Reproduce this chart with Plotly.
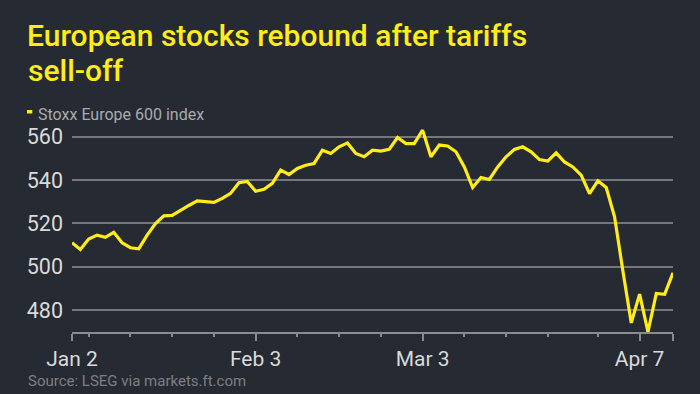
import plotly.graph_objects as go

# Trading-day index (0 = Jan 2 2025 ... 72 = Apr 14 2025)
values = [
    511.1, 508.0, 512.8, 514.6, 513.6, 515.9, 511.1, 508.8, 508.3, 514.6,
    520.0, 523.5, 523.7, 526.2, 528.3, 530.4, 530.2, 529.7, 531.6, 533.9,
    538.8, 539.4, 534.9, 535.8, 538.5, 544.6, 542.6, 545.4, 546.9, 547.7,
    553.8, 552.3, 555.4, 557.2, 552.3, 550.8, 553.8, 553.4, 554.2, 559.7,
    556.9, 556.9, 563.1, 550.8, 556.2, 555.8, 553.1, 546.1, 536.6, 541.2,
    540.3, 546.1, 550.8, 554.2, 555.4, 553.1, 549.5, 548.8, 552.6, 548.4,
    546.1, 542.3, 533.8, 539.7, 536.6, 523.1, 498.0, 474.1, 487.4, 470.0,
    487.7, 487.3, 497.2,
]
day_index = list(range(len(values)))

major_tick_pos = [0, 22, 42, 68, 72]
major_tick_text = ["Jan 2", "Feb 3", "Mar 3", "Apr 7", ""]
minor_tick_pos = [2, 7, 12, 17, 27, 32, 37, 47, 52, 57, 63]
y_ticks = [480, 500, 520, 540, 560]

BG = "#262a33"
YELLOW = "#ffec1a"
GRID = "#75777c"
AXIS = "#8a8b8f"
TICKTXT = "#d9dadc"

L, T, W, H = 72, 126, 601, 206  # plot area in pixels


def px_x(x):
    return (x - L) / W


def px_y(y):
    return 1 - (y - T) / H


fig = go.Figure()
fig.add_trace(go.Scatter(
    x=day_index, y=values, mode="lines",
    line=dict(color=YELLOW, width=3.2), hoverinfo="skip", showlegend=False,
))

fig.update_layout(
    width=700, height=394,
    paper_bgcolor=BG, plot_bgcolor=BG,
    margin=dict(l=L, r=700 - L - W, t=T, b=394 - T - H),
    font=dict(family="Roboto", color=TICKTXT),
    title=dict(
        text="European stocks rebound after tariffs",
        font=dict(family="Roboto", size=30, color=YELLOW, weight=500),
        x=27/700, xref="container", xanchor="left",
        y=1 - 35/394, yref="container", yanchor="middle",
    ),
    xaxis=dict(
        range=[0, 72], showgrid=False, zeroline=False,
        showline=True, linecolor=AXIS, linewidth=1.5,
        tickmode="array", tickvals=major_tick_pos, ticktext=major_tick_text,
        ticks="outside", ticklen=7, tickwidth=1.5, tickcolor=AXIS,
        tickfont=dict(size=21, color=TICKTXT),
        minor=dict(tickmode="array", tickvals=minor_tick_pos, ticks="outside",
                   ticklen=3, tickwidth=1.5, tickcolor=AXIS, showgrid=False),
    ),
    yaxis=dict(
        range=[469.9, 565], tickmode="array", tickvals=y_ticks,
        showgrid=True, gridcolor=GRID, gridwidth=1.5, zeroline=False,
        showline=False, ticks="", tickfont=dict(size=21.5, color=TICKTXT),
        ticklabelstandoff=8,
    ),
    annotations=[
        dict(text="sell-off", xref="paper", yref="paper",
             x=px_x(25.5), y=px_y(71), xanchor="left", yanchor="middle",
             showarrow=False,
             font=dict(family="Roboto", size=30, color=YELLOW, weight=500)),
        dict(text="Stoxx Europe 600 index", xref="paper", yref="paper",
             x=px_x(35.5), y=px_y(114), xanchor="left", yanchor="middle",
             showarrow=False, font=dict(size=16, color="#a9aaae")),
        dict(text="Source: LSEG via markets.ft.com", xref="paper", yref="paper",
             x=px_x(26), y=px_y(381), xanchor="left", yanchor="middle",
             showarrow=False, font=dict(size=15, color="#7d7f84")),
    ],
    shapes=[
        dict(type="rect", xref="paper", yref="paper",
             x0=px_x(27), x1=px_x(32.3),
             y0=px_y(113.5), y1=px_y(110),
             fillcolor=YELLOW, line=dict(width=0)),
    ],
)

fig.write_html("out.html", config={"displayModeBar": False},
               post_script="document.body.style.margin='0';")
